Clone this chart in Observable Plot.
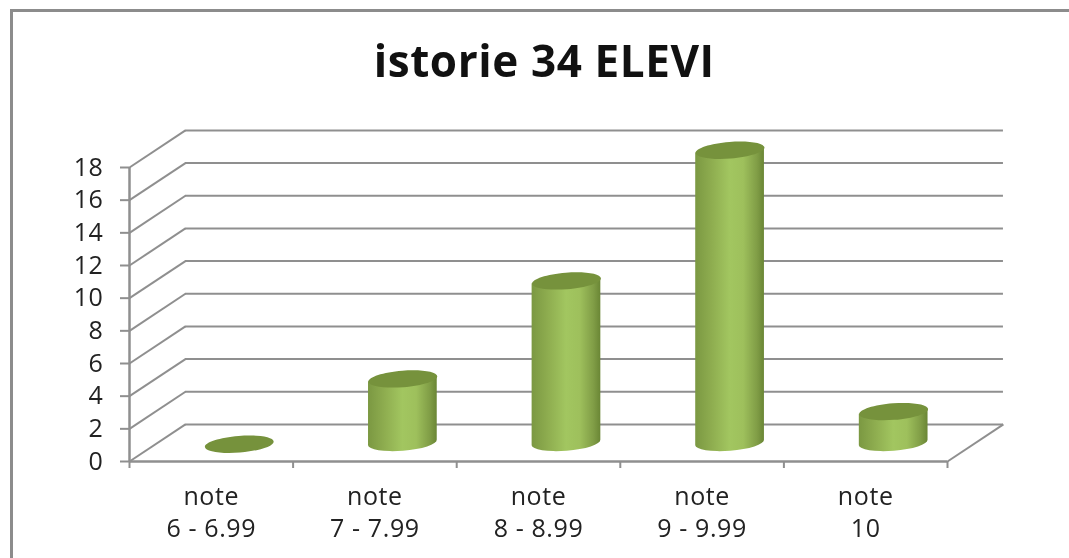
<!DOCTYPE html>
<html><head><meta charset="utf-8">
<script src="https://cdn.jsdelivr.net/npm/d3@7"></script>
<script src="https://cdn.jsdelivr.net/npm/@observablehq/plot@0.6"></script>
<style>
html,body{margin:0;padding:0;background:#fff;overflow:hidden}
#wrap{position:relative;width:1069px;height:558px}
#frame{position:absolute;left:10px;top:9px;right:-5px;bottom:-5px;border-left:3px solid #8c8c8c;border-top:3px solid #8c8c8c}
#chart{position:absolute;left:0;top:0}
svg{filter:blur(0.45px)}
svg text{letter-spacing:.6px}
</style></head><body>
<div id="wrap"><div id="frame"></div><div id="chart"></div></div>
<script>
const categories = ["note\n6 - 6.99","note\n7 - 7.99","note\n8 - 8.99","note\n9 - 9.99","note\n10"];
const values = [0,4,10,18,2];
const yTicks = [0,2,4,6,8,10,12,14,16,18];
const title = "istorie 34 ELEVI";

const depthX = 0.342, depthY = 2.27, cylW = 0.42;
const font = "'Open Sans', sans-serif";
const gridColor = "#8f8f8f";
const n = categories.length;
const rows = categories.map((c,i)=>({c,i,v:values[i]}));
const edges = d3.range(n+1);
const cx = d => d.i + 0.5 + depthX/2;
const tilt = -4.5, ratio = 0.24;

const ellipse = {draw(ctx,size){
  const R=Math.sqrt(size/Math.PI), a=R, b=R*ratio, k=0.5523;
  ctx.moveTo(-a,0);
  ctx.bezierCurveTo(-a,-k*b,-k*a,-b,0,-b);
  ctx.bezierCurveTo(k*a,-b,a,-k*b,a,0);
  ctx.bezierCurveTo(a,k*b,k*a,b,0,b);
  ctx.bezierCurveTo(-k*a,b,-a,k*b,-a,0);
  ctx.closePath();
}};

function defs(){
  const d=d3.create("svg:defs");
  const g=d.append("linearGradient").attr("id","cyl").attr("x1",0).attr("x2",1).attr("y1",0).attr("y2",0);
  [[0,"#7b9842"],[0.25,"#8fae50"],[0.5,"#a2c660"],[0.7,"#9ec05c"],[0.9,"#809d46"],[1,"#6a8635"]]
    .forEach(([o,c])=>g.append("stop").attr("offset",o).attr("stop-color",c));
  return d.node();
}

// turn each rect into a cylinder body whose ends follow the tilted ellipses
function cylinder(index,scales,channels,dimensions,context,next){
  const g=next(index,scales,channels,dimensions,context);
  d3.select(g).selectAll("rect").each(function(){
    const r=d3.select(this), x=+r.attr("x"), y=+r.attr("y"), w=+r.attr("width"), h=+r.attr("height");
    const s=w/2*Math.tan(-tilt*Math.PI/180), rx=w/2, ry=rx*ratio;
    d3.select(this.parentNode).insert("path",()=>this)
      .attr("fill","url(#cyl)")
      .attr("d",`M${x},${y+s}L${x},${y+h+s}A${rx},${ry} ${tilt} 0 0 ${x+w},${y+h-s}L${x+w},${y-s}Z`);
    r.remove();
  });
  return g;
}

const chart = Plot.plot({
  width:1069, height:558,
  marginLeft:129, marginRight:122, marginTop:167, marginBottom:97,
  style:{background:"transparent",fontFamily:font,color:"#222"},
  x:{type:"linear",domain:[0,n],axis:null},
  y:{domain:[0,18],axis:null},
  marks:[
    defs,
    // title
    Plot.text([title],{frameAnchor:"top",dy:-105,fontSize:44,fontWeight:700,fill:"#111",fontFamily:font,textAnchor:"middle",x:()=>n/2+0.035,y:()=>18,lineAnchor:"middle"}),
    // back wall
    Plot.ruleY(yTicks,{y:d=>d+depthY,x1:depthX,x2:n+depthX,stroke:gridColor,strokeWidth:2}),
    // side wall + floor
    Plot.link(yTicks,{x1:0,y1:d=>d,x2:depthX,y2:d=>d+depthY,stroke:gridColor,strokeWidth:2}),
    Plot.link([0],{x1:n,y1:0,x2:n+depthX,y2:depthY,stroke:gridColor,strokeWidth:2}),
    // axes
    Plot.ruleY([0],{x1:0,x2:n,stroke:gridColor,strokeWidth:2.5}),
    Plot.ruleX([0],{y1:0,y2:18,stroke:gridColor,strokeWidth:2.5}),
    Plot.axisY({ticks:yTicks,tickSize:9,tickPadding:17,fontSize:25,stroke:gridColor,strokeWidth:2,strokeOpacity:1,fill:"#222",label:null,fontFamily:font}),
    Plot.axisX({ticks:edges,tickSize:7,tickFormat:()=>"",stroke:gridColor,strokeWidth:2,strokeOpacity:1,label:null}),
    Plot.axisX({ticks:rows.map(d=>d.i+0.5),tickSize:0,tickPadding:21,tickFormat:t=>categories[Math.floor(t)],fontSize:25,lineHeight:1.28,fill:"#222",label:null,fontFamily:font}),
    // cylinders
    Plot.rect(rows.filter(d=>d.v>0),{x1:d=>cx(d)-cylW/2,x2:d=>cx(d)+cylW/2,y1:depthY/2,y2:d=>d.v+depthY/2-0.08,fill:"#9bbb59",render:cylinder}),
    Plot.dot(rows,{x:cx,y:d=>d.v+depthY/2-0.08,symbol:ellipse,r:34.5,rotate:tilt,fill:"#76923c",stroke:"none"})
  ]
});
document.getElementById("chart").append(chart);
</script>
</body></html>
